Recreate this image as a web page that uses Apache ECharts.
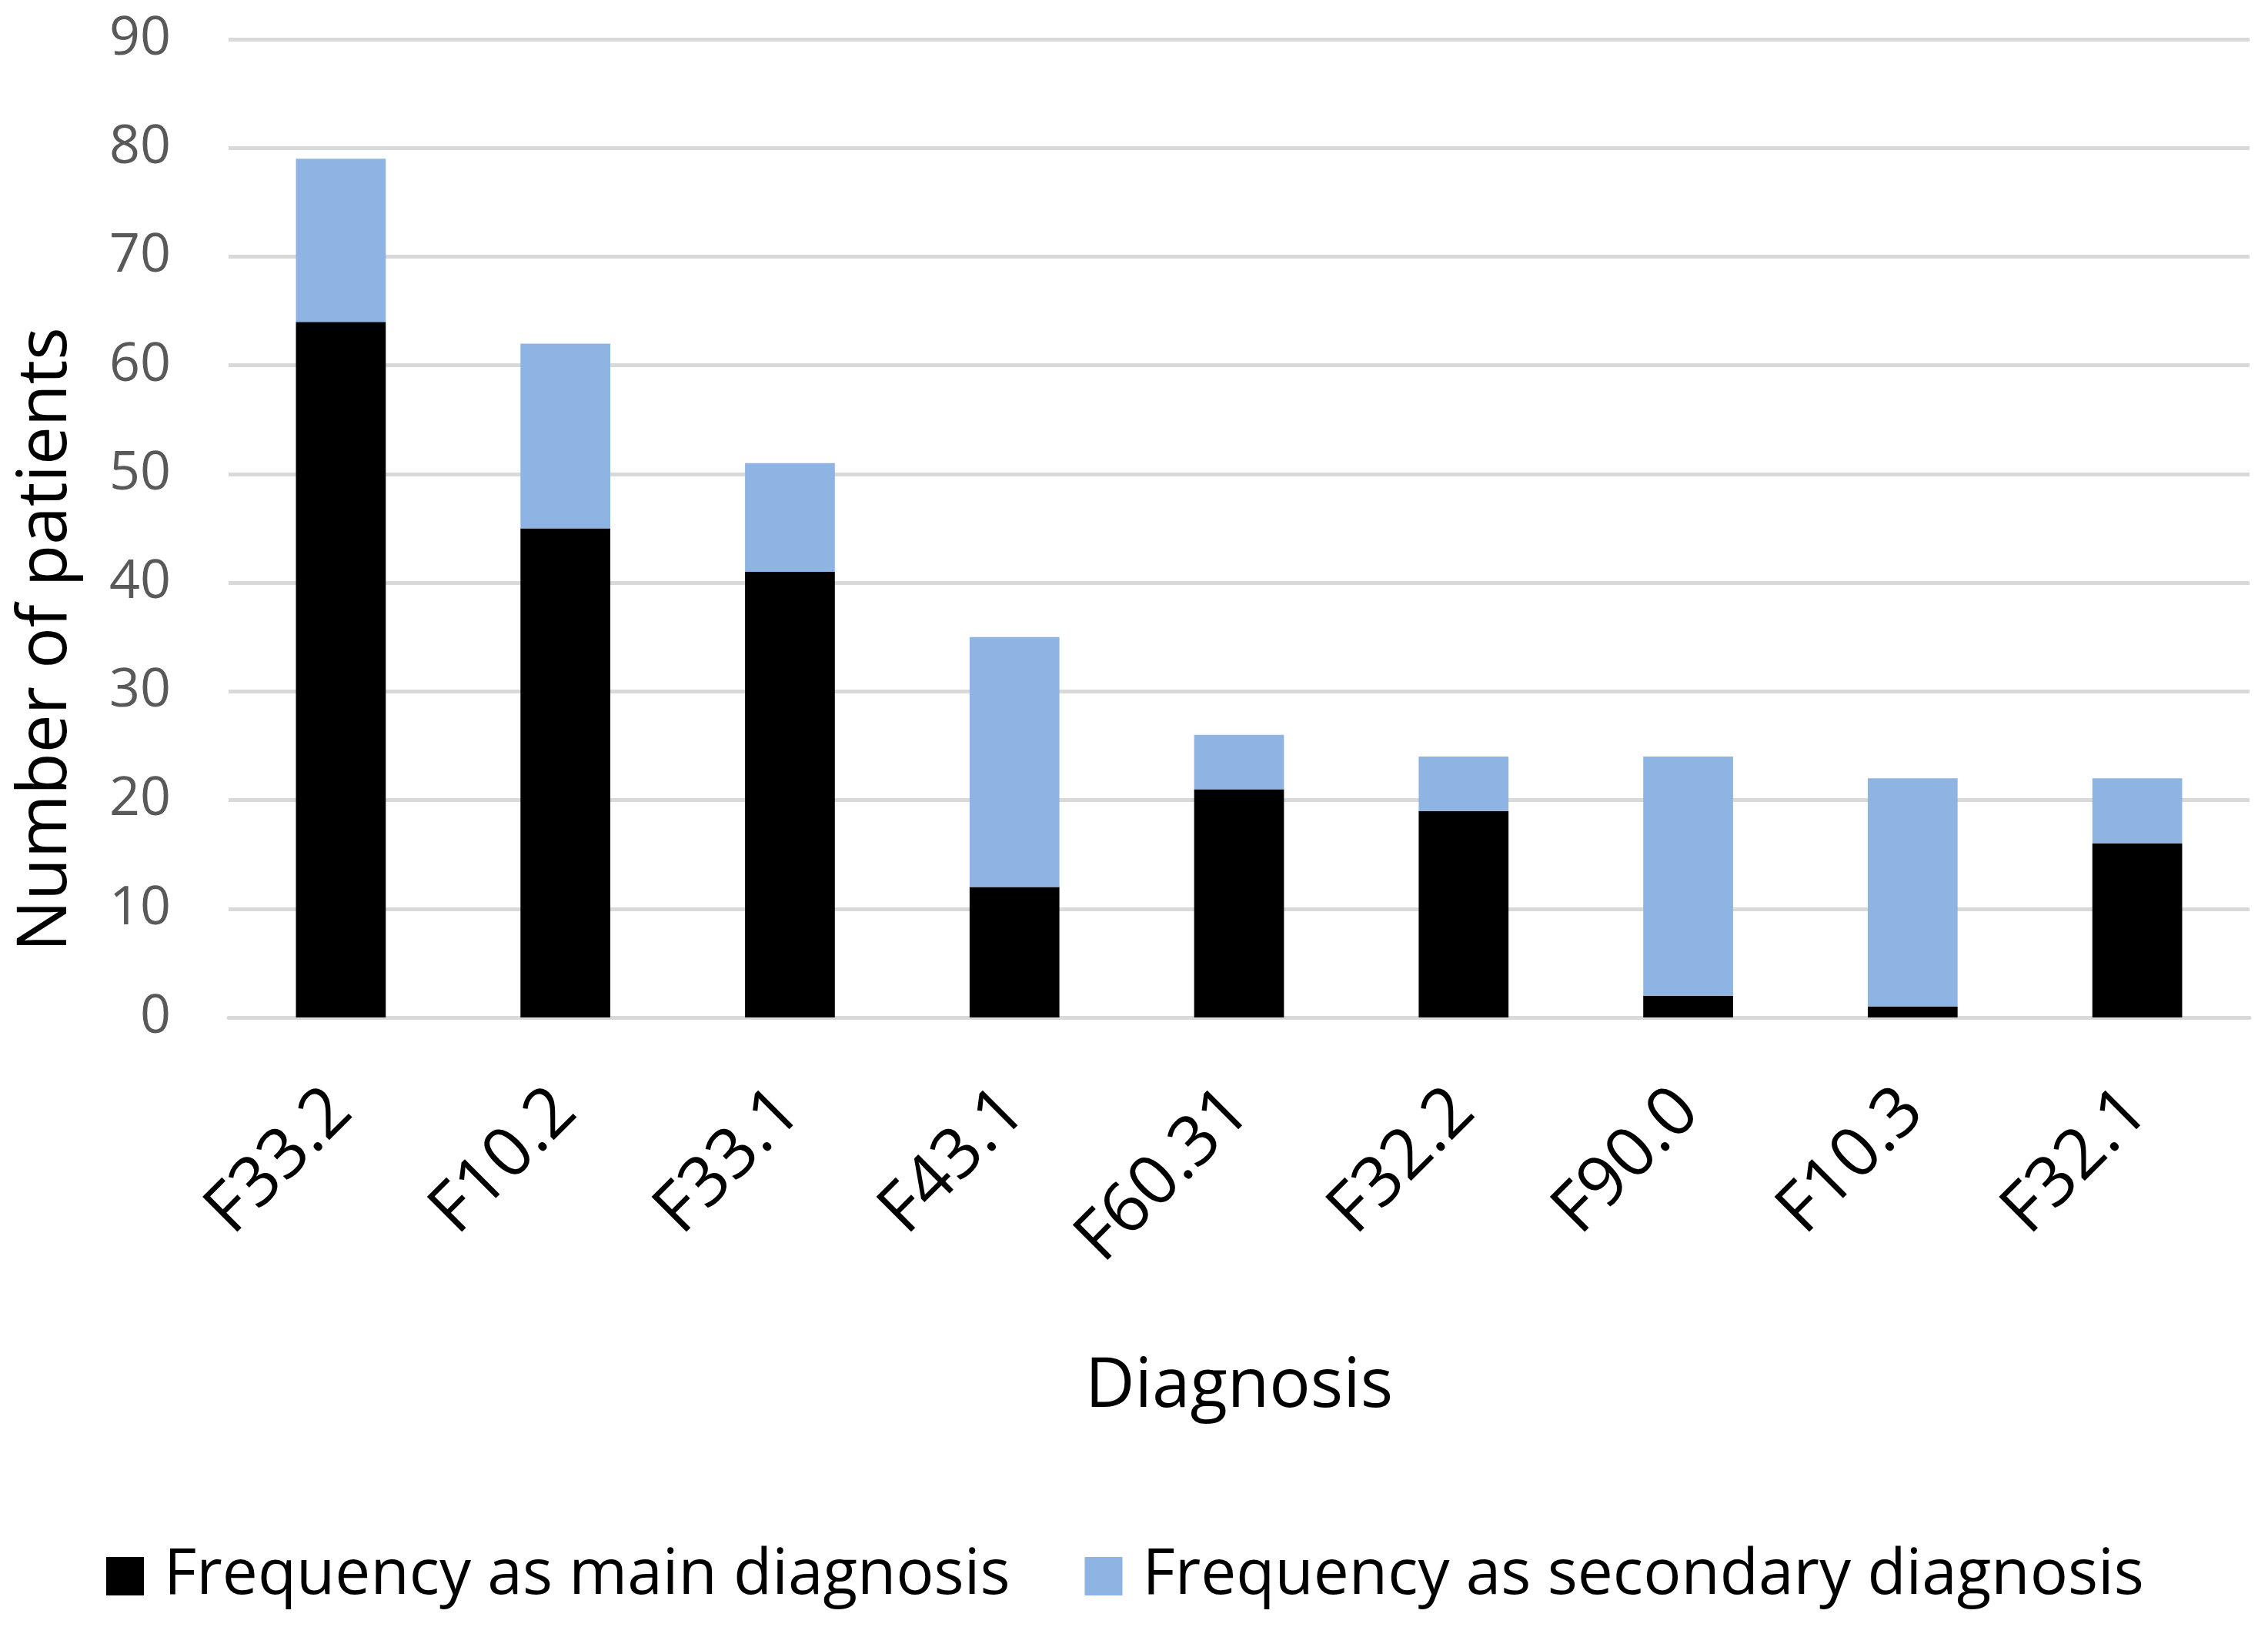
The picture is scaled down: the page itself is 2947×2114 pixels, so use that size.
<!DOCTYPE html>
<html>
<head>
<meta charset="utf-8">
<script src="https://cdn.jsdelivr.net/npm/echarts@6/dist/echarts.min.js"></script>
<style>
  html, body { margin: 0; padding: 0; background: #fff; }
  #main { width: 2947px; height: 2114px; }
</style>
</head>
<body>
<div id="main"></div>
<script>
// diagnosis codes on the x axis
var categories = ['F33.2', 'F10.2', 'F33.1', 'F43.1', 'F60.31', 'F32.2', 'F90.0', 'F10.3', 'F32.1'];
// counts
var mainDiag = [64, 45, 41, 12, 21, 19, 2, 1, 16];
var secondaryDiag = [15, 17, 10, 23, 5, 5, 22, 21, 6];
var seriesNames = ['Frequency as main diagnosis', 'Frequency as secondary diagnosis'];

var font = 'Open Sans';
var chart = echarts.init(document.getElementById('main'));

var option = {
  animation: false,
  backgroundColor: '#ffffff',
  grid: { left: 297, right: 24, top: 51, bottom: 792, containLabel: false },
  legend: {
    left: 133,
    top: 2002,
    itemWidth: 49,
    itemHeight: 50,
    itemGap: 97,
    icon: 'rect',
    textStyle: { fontFamily: font, fontSize: 82, color: '#000', padding: [0, 0, 0, 21] },
    data: seriesNames
  },
  // y axis title, placed a bit below the plot centre as in the original
  graphic: [{
    type: 'text',
    x: 61,
    y: 831,
    rotation: Math.PI / 2,
    style: {
      text: 'Number of patients',
      fontFamily: font,
      fontSize: 89,
      fill: '#000',
      textAlign: 'center',
      textVerticalAlign: 'middle'
    }
  }],
  xAxis: {
    type: 'category',
    data: categories,
    name: 'Diagnosis',
    nameLocation: 'middle',
    nameGap: 436,
    nameTextStyle: { fontFamily: font, fontSize: 89, color: '#000' },
    axisLine: { lineStyle: { color: '#d9d9d9', width: 5 } },
    axisTick: { show: false },
    axisLabel: {
      rotate: 45,
      margin: 108,
      fontFamily: font,
      fontSize: 90,
      color: '#000'
    }
  },
  yAxis: {
    type: 'value',
    min: 0,
    max: 90,
    interval: 10,
    axisLine: { show: false },
    axisTick: { show: false },
    splitLine: { lineStyle: { color: '#d9d9d9', width: 5 } },
    axisLabel: { margin: 75, fontFamily: font, fontSize: 70, color: '#595959' }
  },
  series: [
    {
      name: seriesNames[0],
      type: 'bar',
      stack: 'total',
      barWidth: '40%',
      itemStyle: { color: '#000000' },
      data: mainDiag
    },
    {
      name: seriesNames[1],
      type: 'bar',
      stack: 'total',
      barWidth: '40%',
      itemStyle: { color: '#8db4e2' },
      data: secondaryDiag
    }
  ]
};

chart.setOption(option);
</script>
</body>
</html>
